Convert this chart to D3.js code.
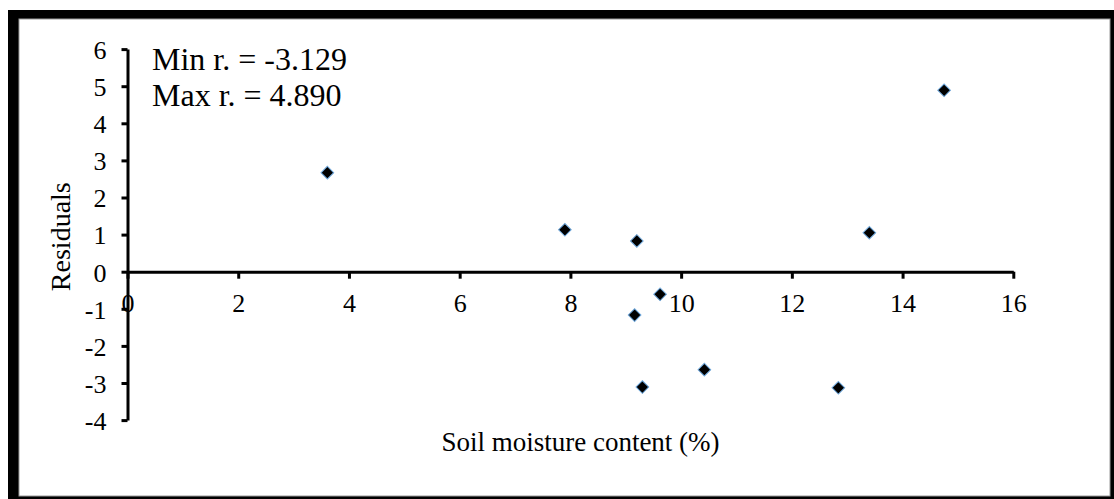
<!DOCTYPE html>
<html>
<head>
<meta charset="utf-8">
<script src="https://cdn.jsdelivr.net/npm/d3@7"></script>
<style>
  body { margin: 0; background: #fff; }
  svg { display: block; }
  .axis path, .axis line { stroke: #000; stroke-width: 3; }
  .axis text { font-family: "Liberation Serif", "Times New Roman", serif; font-size: 26px; fill: #000; }
</style>
</head>
<body>
<svg id="chart" width="1114" height="499"></svg>
<script>
// soil moisture (%) vs residuals
var moisture  = [3.61, 7.90, 9.20, 9.62, 9.16, 9.30, 10.42, 12.84, 13.40, 14.75];
var residuals = [2.67, 1.13, 0.83, -0.61, -1.17, -3.11, -2.64, -3.129, 1.05, 4.89];
var xTicks = [0, 2, 4, 6, 8, 10, 12, 14, 16];
var yTicks = [-4, -3, -2, -1, 0, 1, 2, 3, 4, 5, 6];
var notes = ["Min r. = -3.129", "Max r. = 4.890"];

var svg = d3.select("#chart");
var serif = "'Liberation Serif', 'Times New Roman', serif";

// frame: heavy black on top/left, the rest runs off the picture
svg.append("rect")
  .attr("x", 8).attr("y", 10)
  .attr("width", 1120).attr("height", 500)
  .attr("fill", "#000");
svg.append("rect")
  .attr("x", 19).attr("y", 19)
  .attr("width", 1091).attr("height", 477)
  .attr("fill", "#fff")
  .attr("stroke", "#9a9a9a")
  .attr("stroke-width", 1);

var x = d3.scaleLinear().domain([0, 16]).range([127.5, 1013.3]);
var y = d3.scaleLinear().domain([-4, 6]).range([420.1, 49.1]);

// plain hyphen for negatives, like the original
var plain = d => String(d);

var xAxis = d3.axisBottom(x)
  .tickValues(xTicks)
  .tickFormat(plain)
  .tickSize(7)
  .tickSizeOuter(0)
  .tickPadding(15);

var yAxis = d3.axisLeft(y)
  .tickValues(yTicks)
  .tickFormat(plain)
  .tickSize(6)
  .tickSizeOuter(0)
  .tickPadding(15);

svg.append("g")
  .attr("class", "axis")
  .attr("transform", "translate(" + x(0) + ",0)")
  .call(yAxis)
  .call(g => g.selectAll(".tick text").attr("dy", "0.36em"));

svg.append("g")
  .attr("class", "axis")
  .attr("transform", "translate(0," + y(0) + ")")
  .call(xAxis);

// residual points, diamonds
var diamond = d3.symbol().type(d3.symbolSquare).size(80);
svg.append("g")
  .selectAll("path")
  .data(moisture)
  .join("path")
  .attr("d", diamond)
  .attr("transform", (d, i) => "translate(" + x(d) + "," + y(residuals[i]) + ") rotate(45)")
  .attr("fill", "#000")
  .attr("stroke", "#6fa8dc")
  .attr("stroke-width", 1);

// min / max annotation
svg.append("g")
  .selectAll("text")
  .data(notes)
  .join("text")
  .attr("x", 152)
  .attr("y", (d, i) => 70 + i * 36)
  .style("font-family", serif)
  .style("font-size", "32px")
  .text(d => d);

svg.append("text")
  .attr("transform", "translate(70,236.7) rotate(-90)")
  .attr("text-anchor", "middle")
  .style("font-family", serif)
  .style("font-size", "28px")
  .text("Residuals");

svg.append("text")
  .attr("x", 580.5)
  .attr("y", 451)
  .attr("text-anchor", "middle")
  .style("font-family", serif)
  .style("font-size", "27px")
  .text("Soil moisture content (%)");
</script>
</body>
</html>
